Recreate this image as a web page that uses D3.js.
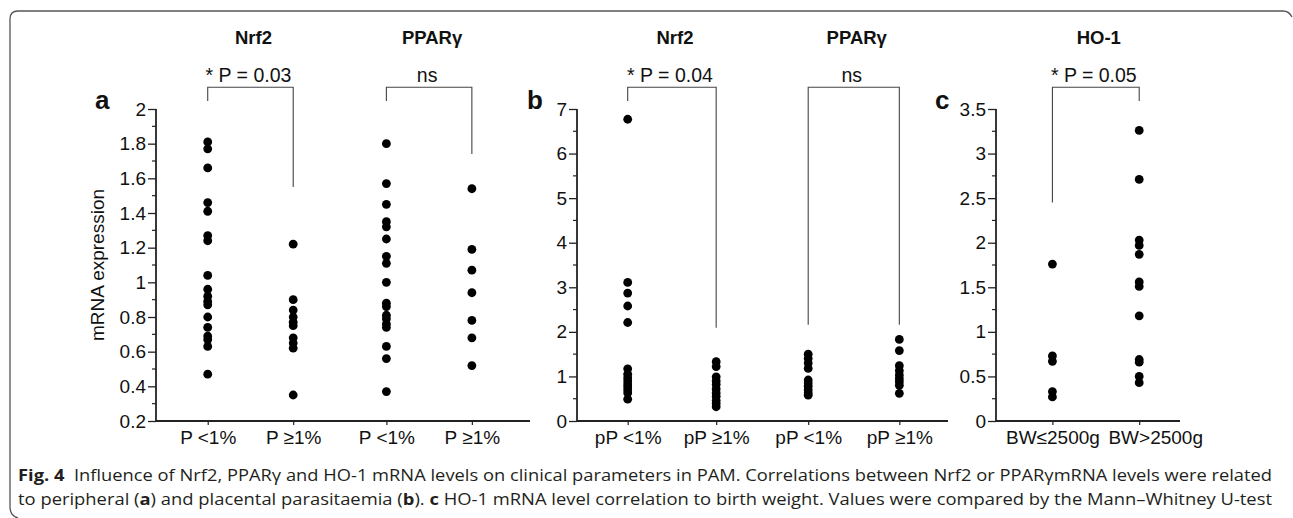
<!DOCTYPE html>
<html><head><meta charset="utf-8">
<script src="https://cdn.jsdelivr.net/npm/d3@7"></script>
<style>
html,body{margin:0;padding:0;background:#fff;}
svg{display:block;font-family:Arial,"Liberation Sans",Helvetica,sans-serif;}
</style></head>
<body>
<svg id="chart" width="1293" height="518"></svg>
<script>
// ---------- DATA ----------
const panelLetters = ["a", "b", "c"];
const geneTitles = [["Nrf2", "PPARγ"], ["Nrf2", "PPARγ"], ["HO-1"]];
const pLabels = [["* P = 0.03", "ns"], ["* P = 0.04", "ns"], ["* P = 0.05"]];
const catsA = ["P <1%", "P ≥1%", "P <1%", "P ≥1%"];
const catsB = ["pP <1%", "pP ≥1%", "pP <1%", "pP ≥1%"];
const catsC = ["BW≤2500g", "BW>2500g"];
const ticksA = [0.2, 0.4, 0.6, 0.8, 1, 1.2, 1.4, 1.6, 1.8, 2];
const ticksB = [0, 1, 2, 3, 4, 5, 6, 7];
const ticksC = [0, 0.5, 1, 1.5, 2, 2.5, 3, 3.5];
const yLabel = "mRNA expression";

// panel a: Nrf2 P<1%, Nrf2 P>=1%, PPARg P<1%, PPARg P>=1%
const aNrf2Low  = [1.81, 1.77, 1.66, 1.46, 1.41, 1.27, 1.24, 1.04, 0.96, 0.92, 0.89, 0.87, 0.80, 0.74, 0.69, 0.67, 0.63, 0.47];
const aNrf2High = [1.22, 0.90, 0.84, 0.80, 0.77, 0.75, 0.68, 0.65, 0.62, 0.35];
const aPparLow  = [1.80, 1.57, 1.45, 1.35, 1.32, 1.25, 1.15, 1.11, 1.00, 0.88, 0.86, 0.81, 0.79, 0.76, 0.74, 0.63, 0.56, 0.37];
const aPparHigh = [1.54, 1.19, 1.07, 0.94, 0.78, 0.68, 0.52];
// panel b
const bNrf2Low  = [6.77, 3.11, 2.87, 2.58, 2.21, 1.17, 1.05, 0.97, 0.90, 0.83, 0.77, 0.70, 0.63, 0.49];
const bNrf2High = [1.33, 1.22, 0.99, 0.90, 0.82, 0.72, 0.63, 0.55, 0.46, 0.39, 0.32];
const bPparLow  = [1.50, 1.40, 1.30, 1.18, 0.92, 0.85, 0.78, 0.70, 0.63, 0.58];
const bPparHigh = [1.83, 1.58, 1.24, 1.13, 1.03, 0.95, 0.88, 0.80, 0.62];
// panel c
const cLowBW  = [1.76, 0.73, 0.67, 0.33, 0.27];
const cHighBW = [3.26, 2.71, 2.03, 1.97, 1.87, 1.56, 1.51, 1.18, 0.69, 0.66, 0.50, 0.43];

// bracket drop ends (data units): [left end, right end]
const bracketEndsA = [[2.046, 1.55], [2.046, 1.74]];
const bracketEndsB = [[7.18, 2.09], [2.16, 2.16]];
const bracketEndsC = [[2.45, 3.59]];

// ---------- LAYOUT ----------
const FONT = "Arial, 'Liberation Sans', Helvetica, sans-serif";
const svg = d3.select("#chart");
const yTop = 109, yBot = 421, bracketTopY = 87.3;

const panels = [
  { letter: panelLetters[0], titles: geneTitles[0], pl: pLabels[0], cats: catsA,
    series: [aNrf2Low, aNrf2High, aPparLow, aPparHigh], pos: [0, 1, 2.09, 3.09],
    xDom: [-0.605, 3.77], xRange: [156, 530], yDom: [0.2, 2], ticks: ticksA, minorStep: 0.1,
    brackets: bracketEndsA, fmt: d => String(+d.toFixed(1)), letterX: 95, yLab: true, labShift: [0, 0, 0, 0] },
  { letter: panelLetters[1], titles: geneTitles[1], pl: pLabels[1], cats: catsB,
    series: [bNrf2Low, bNrf2High, bPparLow, bPparHigh], pos: [0, 1, 2.04, 3.07],
    xDom: [-0.573, 3.62], xRange: [577, 948], yDom: [0, 7], ticks: ticksB, minorStep: 0.5,
    brackets: bracketEndsB, fmt: d => String(d), letterX: 527, labShift: [0, 0, 0, 0] },
  { letter: panelLetters[2], titles: geneTitles[2], pl: pLabels[2], cats: catsC,
    series: [cLowBW, cHighBW], pos: [0, 1],
    xDom: [-0.65, 1.47], xRange: [996, 1180], yDom: [0, 3.5], ticks: ticksC, minorStep: 0.25,
    brackets: bracketEndsC, fmt: d => String(d), letterX: 935, labShift: [0, 16] }
];

panels.forEach(p => {
  const g = svg.append("g");
  const x = d3.scaleLinear().domain(p.xDom).range(p.xRange);
  const y = d3.scaleLinear().domain(p.yDom).range([yBot, yTop]);
  const x0 = p.xRange[0];

  // minor ticks
  const minor = d3.range(p.yDom[0], p.yDom[1] + 1e-9, p.minorStep)
    .filter(v => !p.ticks.some(t => Math.abs(t - v) < 1e-6));
  g.selectAll("line.minor").data(minor).enter().append("line")
    .attr("x1", x0 - 4).attr("x2", x0)
    .attr("y1", d => y(d)).attr("y2", d => y(d))
    .attr("stroke", "#222").attr("stroke-width", 1.2);

  // y axis
  const yAxis = d3.axisLeft(y).tickValues(p.ticks).tickSize(8).tickPadding(2).tickFormat(p.fmt);
  const ya = g.append("g").attr("transform", `translate(${x0},0)`).call(yAxis)
    .attr("font-family", FONT).attr("font-size", 19);
  ya.select(".domain").attr("stroke", "#222").attr("stroke-width", 1.8).attr("d", `M0,${yTop}V${yBot}`);
  ya.selectAll(".tick line").attr("stroke", "#222").attr("stroke-width", 1.3);
  ya.selectAll(".tick text").attr("fill", "#111");

  // x axis
  const xAxis = d3.axisBottom(x).tickValues(p.pos).tickSize(4).tickPadding(6)
    .tickFormat((d, i) => p.cats[i]);
  const xa = g.append("g").attr("transform", `translate(0,${yBot})`).call(xAxis)
    .attr("font-family", FONT).attr("font-size", 19);
  xa.select(".domain").attr("stroke", "#222").attr("stroke-width", 1.8)
    .attr("d", `M${p.xRange[0]},0H${p.xRange[1]}`);
  xa.selectAll(".tick line").attr("stroke", "#222").attr("stroke-width", 1.2);
  xa.selectAll(".tick text").attr("fill", "#111").attr("dx", (d, i) => p.labShift[i]);

  // dots
  p.series.forEach((vals, i) => {
    g.selectAll(null).data(vals).enter().append("circle")
      .attr("cx", x(p.pos[i])).attr("cy", d => y(d)).attr("r", 4.4).attr("fill", "#000");
  });

  // brackets, titles, p labels
  p.brackets.forEach((b, j) => {
    const xl = x(p.pos[2 * j]), xr = x(p.pos[2 * j + 1]);
    g.append("path")
      .attr("d", `M${xl},${y(b[0])}V${bracketTopY}H${xr}V${y(b[1])}`)
      .attr("fill", "none").attr("stroke", "#444").attr("stroke-width", 1.1);
    const cx = (xl + xr) / 2;
    g.append("text").attr("x", cx - 2).attr("y", 81.5).attr("text-anchor", "middle")
      .attr("font-family", FONT).attr("font-size", 19.5).attr("fill", "#111").text(p.pl[j]);
    g.append("text").attr("x", cx + 3).attr("y", 44).attr("text-anchor", "middle")
      .attr("font-family", FONT).attr("font-size", 18.5).attr("font-weight", "bold").attr("fill", "#111").text(p.titles[j]);
  });

  // panel letter
  g.append("text").attr("x", p.letterX).attr("y", 109).attr("font-size", 26)
    .attr("font-family", FONT).attr("font-weight", "bold").attr("fill", "#111").text(p.letter);

  if (p.yLab) {
    g.append("text").attr("transform", `translate(104,${(yTop + yBot) / 2}) rotate(-90)`)
      .attr("font-family", FONT).attr("text-anchor", "middle").attr("font-size", 19).attr("fill", "#111").text(yLabel);
  }
});

// frame
svg.append("path")
  .attr("d", "M18,518 Q10,516 10,507 L10,19 Q10,11 18,11 L1283,11 Q1289,11 1292,17")
  .attr("fill", "none").attr("stroke", "#555").attr("stroke-width", 1.3);

// caption
const capFont = "'Open Sans', 'Noto Sans', sans-serif";
const line1 = [["Fig. 4", true], ["  Influence of Nrf2, PPARγ and HO-1 mRNA levels on clinical parameters in PAM. Correlations between Nrf2 or PPARγmRNA levels were related", false]];
const line2 = [["to peripheral (", false], ["a", true], [") and placental parasitaemia (", false], ["b", true], ["). ", false], ["c", true], [" HO-1 mRNA level correlation to birth weight. Values were compared by the Mann–Whitney U-test", false]];
[[line1, 481], [line2, 505]].forEach(([parts, yy]) => {
  const t = svg.append("text").attr("x", 18).attr("y", yy).attr("font-family", capFont)
    .attr("font-size", 15.5).attr("fill", "#231f20").attr("xml:space", "preserve")
    .style("white-space", "pre");
  parts.forEach(([s, b]) => t.append("tspan").attr("font-weight", b ? "bold" : "normal").text(s));
  t.attr("textLength", 1254).attr("lengthAdjust", "spacingAndGlyphs");
});
</script>
</body></html>
